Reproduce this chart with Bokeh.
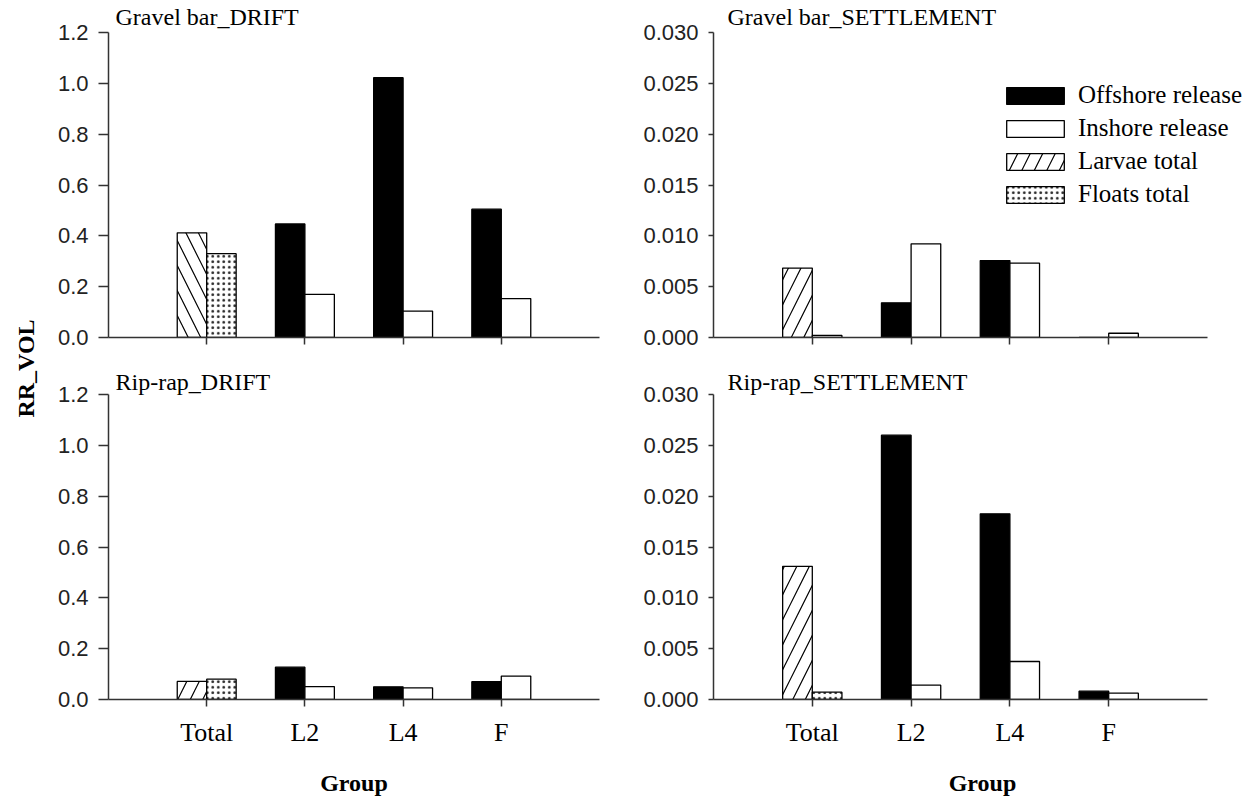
import math
from bokeh.plotting import figure
from bokeh.models import (Range1d, FixedTicker, PrintfTickFormatter,
                          Label, Legend, LegendItem, ColumnDataSource)
from bokeh.layouts import row, column
from bokeh.embed import file_html
from bokeh.resources import INLINE

# ---------------- data ----------------
groups = ["Total", "L2", "L4", "F"]
release_groups = ["L2", "L4", "F"]
total_series = ["Larvae total", "Floats total"]

# Gravel bar - DRIFT
gravel_drift_totals = [0.412, 0.330]            # larvae, floats
gravel_drift_offshore = [0.447, 1.022, 0.505]   # L2, L4, F
gravel_drift_inshore = [0.170, 0.104, 0.153]

# Gravel bar - SETTLEMENT
gravel_settle_totals = [0.00683, 0.00020]
gravel_settle_offshore = [0.00341, 0.00757, 0.0]
gravel_settle_inshore = [0.00921, 0.00731, 0.00042]

# Rip-rap - DRIFT
riprap_drift_totals = [0.071, 0.080]
riprap_drift_offshore = [0.127, 0.050, 0.070]
riprap_drift_inshore = [0.051, 0.046, 0.092]

# Rip-rap - SETTLEMENT
riprap_settle_totals = [0.0131, 0.00072]
riprap_settle_offshore = [0.0260, 0.01826, 0.00082]
riprap_settle_inshore = [0.00141, 0.00374, 0.00062]

# ---------------- style ----------------
SERIF = "Liberation Serif"
SANS = "Liberation Sans"
AX = "#333333"
BAR_W = 0.3
POS = {g: i + 1 for i, g in enumerate(groups)}
X_END = 5
PLOT_H = 305   # pixel height of the value axis


def make_panel(title, totals, offshore, inshore, ymax, ystep, fmt, larvae_hatch,
               top_row, left_col, with_legend=False):
    axis_w = 491 if left_col else 494
    frame_w = axis_w if left_col else 538
    frame_h = 337 if top_row else 334
    p = figure(frame_width=frame_w, frame_height=frame_h,
               x_range=Range1d(0, X_END * frame_w / axis_w),
               y_range=Range1d(0, ymax * frame_h / PLOT_H),
               output_backend="svg", toolbar_location=None,
               min_border_left=58 if left_col else 70,
               min_border_right=41 if left_col else 7,
               min_border_top=0,
               min_border_bottom=28 if top_row else 102)
    p.outline_line_color = None
    p.xgrid.visible = False
    p.ygrid.visible = False
    p.background_fill_color = "white"

    tot_x = [POS["Total"] - BAR_W / 2, POS["Total"] + BAR_W / 2]
    rel_x = [POS[g] for g in release_groups]

    src_l = ColumnDataSource(dict(x=[tot_x[0]], top=[totals[0]]))
    src_f = ColumnDataSource(dict(x=[tot_x[1]], top=[totals[1]]))
    src_o = ColumnDataSource(dict(x=[x - BAR_W / 2 for x in rel_x], top=offshore))
    src_i = ColumnDataSource(dict(x=[x + BAR_W / 2 for x in rel_x], top=inshore))

    r_l = p.vbar(x="x", top="top", bottom=0, width=BAR_W, source=src_l,
                 fill_color="white", line_color="black", line_width=1.3,
                 hatch_pattern=larvae_hatch, hatch_color="black",
                 hatch_scale=25, hatch_weight=1.2)
    r_f = p.vbar(x="x", top="top", bottom=0, width=BAR_W, source=src_f,
                 fill_color="white", line_color="black", line_width=1.3,
                 hatch_pattern=".", hatch_color="#222222",
                 hatch_scale=5.5, hatch_weight=1.0)
    r_o = p.vbar(x="x", top="top", bottom=0, width=BAR_W, source=src_o,
                 fill_color="black", line_color="black", line_width=1.3)
    r_i = p.vbar(x="x", top="top", bottom=0, width=BAR_W, source=src_i,
                 fill_color="white", line_color="black", line_width=1.3)

    # x axis
    xa = p.xaxis[0]
    xa.bounds = (0, X_END)
    xa.ticker = FixedTicker(ticks=[POS[g] for g in groups])
    xa.axis_line_color = AX
    xa.axis_line_width = 1.5
    xa.major_tick_line_color = AX
    xa.major_tick_line_width = 1.5
    xa.major_tick_in = 0
    xa.major_tick_out = 7
    xa.minor_tick_line_color = None
    xa.major_label_text_font = SERIF
    xa.major_label_text_color = "black"
    xa.major_label_text_font_size = "26px"
    if top_row:
        xa.major_label_overrides = {POS[g]: "" for g in groups}
        xa.major_label_standoff = 0
    else:
        xa.major_label_overrides = {POS[g]: g for g in groups}
        xa.major_label_standoff = 11
        xa.axis_label = "Group"
        xa.axis_label_text_font = SERIF
        xa.axis_label_text_font_size = "24px"
        xa.axis_label_text_font_style = "bold"
        xa.axis_label_text_color = "black"
        xa.axis_label_standoff = 20

    # y axis
    ya = p.yaxis[0]
    ya.bounds = (0, ymax)
    ya.ticker = FixedTicker(ticks=[round(k * ystep, 6) for k in range(int(round(ymax / ystep)) + 1)])
    ya.formatter = PrintfTickFormatter(format=fmt)
    ya.axis_line_color = AX
    ya.axis_line_width = 1.5
    ya.major_tick_line_color = AX
    ya.major_tick_line_width = 1.5
    ya.major_tick_in = 0
    ya.major_tick_out = 10 if left_col else 5
    ya.minor_tick_line_color = None
    ya.major_label_text_font = SANS
    ya.major_label_text_font_size = "22px"
    ya.major_label_text_color = "#222222"
    ya.major_label_standoff = 10

    p.add_layout(Label(x=0, y=ymax, text=title,
                       x_offset=7 if left_col else 14, y_offset=16 if top_row else 13,
                       text_font=SERIF, text_font_size="24px", text_color="black",
                       text_baseline="alphabetic", text_align="left"))

    if with_legend:
        leg = Legend(items=[LegendItem(label="Offshore release", renderers=[r_o]),
                            LegendItem(label="Inshore release", renderers=[r_i]),
                            LegendItem(label=total_series[0], renderers=[r_l]),
                            LegendItem(label=total_series[1], renderers=[r_f])],
                     location=(286, 129), orientation="vertical",
                     glyph_width=72, glyph_height=21, label_standoff=7,
                     label_text_font=SERIF, label_text_font_size="25px",
                     label_text_color="black", spacing=5, padding=0, margin=0,
                     border_line_color=None, background_fill_alpha=0)
        p.add_layout(leg)
    return p


tl = make_panel("Gravel bar_DRIFT", gravel_drift_totals, gravel_drift_offshore,
                gravel_drift_inshore, 1.2, 0.2, "%.1f", "\\", True, True)
tr = make_panel("Gravel bar_SETTLEMENT", gravel_settle_totals, gravel_settle_offshore,
                gravel_settle_inshore, 0.030, 0.005, "%.3f", "/", True, False,
                with_legend=True)
bl = make_panel("Rip-rap_DRIFT", riprap_drift_totals, riprap_drift_offshore,
                riprap_drift_inshore, 1.2, 0.2, "%.1f", "/", False, True)
br = make_panel("Rip-rap_SETTLEMENT", riprap_settle_totals, riprap_settle_offshore,
                riprap_settle_inshore, 0.030, 0.005, "%.3f", "/", False, False)

lab = figure(width=50, height=801, x_range=Range1d(0, 1), y_range=Range1d(0, 1),
             output_backend="svg", toolbar_location=None,
             x_axis_location=None, y_axis_location=None,
             min_border=0, min_border_left=0, min_border_right=0,
             min_border_top=0, min_border_bottom=0)
lab.outline_line_color = None
lab.xgrid.visible = False
lab.ygrid.visible = False
lab.add_layout(Label(x=25, y=801 - 368, x_units="screen", y_units="screen",
                     text="RR_VOL", angle=math.pi / 2, text_align="center",
                     text_baseline="middle", text_font=SERIF, text_font_size="24px",
                     text_font_style="bold", text_color="black"))

layout = row(lab, column(row(tl, tr), row(bl, br)))

open("out.html", "w").write(file_html(layout, INLINE))
